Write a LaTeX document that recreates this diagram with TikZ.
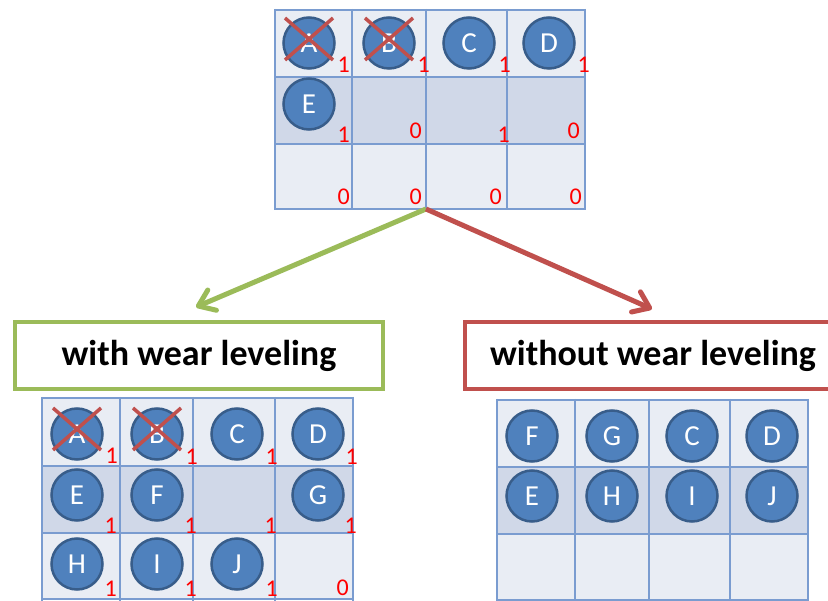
\documentclass[tikz,border=0pt]{standalone}
\usepackage{fontspec}
\setmainfont{Carlito}
\usetikzlibrary{arrows.meta}
\definecolor{gridline}{RGB}{122,156,208}
\definecolor{lightcell}{RGB}{233,237,244}
\definecolor{darkcell}{RGB}{208,216,232}
\definecolor{cfill}{RGB}{79,129,189}
\definecolor{cborder}{RGB}{56,93,138}
\definecolor{xred}{RGB}{192,80,77}
\definecolor{dred}{RGB}{255,0,0}
\definecolor{wgreen}{RGB}{155,187,89}
\definecolor{wred}{RGB}{192,80,77}
\tikzset{
  gridl/.style={draw=gridline, line width=1.3pt},
  blk/.style={circle, fill=cfill, draw=cborder, line width=2.5pt, minimum size=51pt, inner sep=0pt, text=white, font=\fontsize{29}{29}\selectfont},
  xmark/.style={draw=xred, line width=3.5pt},
  dig/.style={anchor=base east, inner sep=0pt, text=dred, font=\fontsize{24}{24}\selectfont},
  titlebox/.style={fill=white, line width=4pt, minimum height=67pt, inner sep=0pt, font=\bfseries\fontsize{36}{36}\selectfont},
  warrow/.style={line width=5pt, -{Straight Barb[length=15pt,width=22pt,line join=round,line cap=round]}}
}
\begin{document}
\begin{tikzpicture}[x=1pt,y=-1pt]
\useasboundingbox (0,0) rectangle (828,601);
\clip (0,0) rectangle (828,601);
\fill[white] (0,0) rectangle (828,601);
% ---------- top grid ----------
\fill[lightcell] (275,10) rectangle (585,77);
\fill[darkcell] (275,77) rectangle (585,144);
\fill[lightcell] (275,144) rectangle (585,209);
\foreach \x in {275,352,426,507,585} \draw[gridl] (\x,9) -- (\x,210);
\foreach \y in {10,77,144,209} \draw[gridl] (274,\y) -- (586,\y);
\node[blk] (tA) at (309,43) {A};
\node[blk] (tB) at (389,43) {B};
\node[blk] (tC) at (469,43) {C};
\node[blk] (tD) at (549,43) {D};
\node[blk] (tE) at (309,104) {E};
\draw[xmark] ([shift={(-24,-25)}]tA.center) -- ([shift={(24,17)}]tA.center);
\draw[xmark] ([shift={(-24,17)}]tA.center) -- ([shift={(24,-25)}]tA.center);
\draw[xmark] ([shift={(-24,-25)}]tB.center) -- ([shift={(24,17)}]tB.center);
\draw[xmark] ([shift={(-24,17)}]tB.center) -- ([shift={(24,-25)}]tB.center);
\node[dig] (t11) at (350,73) {1};
\node[dig] (t12) at (430,73) {1};
\node[dig] (t13) at (511,73) {1};
\node[dig] (t14) at (590,73) {1};
\node[dig] (t21) at (350,143) {1};
\node[dig] (t22) at (422,139) {0};
\node[dig] (t23) at (510,143) {1};
\node[dig] (t24) at (580,139) {0};
\node[dig] (t31) at (350,205) {0};
\node[dig] (t32) at (422,205) {0};
\node[dig] (t33) at (502,205) {0};
\node[dig] (t34) at (582,205) {0};
% ---------- title boxes ----------
\node[titlebox, draw=wgreen, minimum width=368pt] (gbox) at (199,355.5) {with wear leveling};
\node[titlebox, draw=wred, minimum width=376pt] (rbox) at (653,355.5) {without wear leveling};
% ---------- arrows ----------
\coordinate (src) at (426,209);
\coordinate (gtip) at (196,307);
\coordinate (rtip) at (652,309);
\draw[warrow, draw=wgreen] (src) -- (gtip);
\draw[warrow, draw=wred] (src) -- (rtip);
% ---------- bottom-left grid ----------
\fill[lightcell] (42,398) rectangle (353,466);
\fill[darkcell] (42,466) rectangle (353,533);
\fill[lightcell] (42,533) rectangle (353,599);
\foreach \x in {42,120,193,275,353} \draw[gridl] (\x,397) -- (\x,601);
\foreach \y in {398,466,533,599} \draw[gridl] (41,\y) -- (354,\y);
\node[blk] (lA) at (77,434) {A};
\node[blk] (lB) at (157,434) {B};
\node[blk] (lC) at (237,434) {C};
\node[blk] (lD) at (318,434) {D};
\node[blk] (lE) at (77,495) {E};
\node[blk] (lF) at (157,495) {F};
\node[blk] (lG) at (318,495) {G};
\node[blk] (lH) at (77,564) {H};
\node[blk] (lI) at (157,564) {I};
\node[blk] (lJ) at (237,564) {J};
\draw[xmark] ([shift={(-24,-26)}]lA.center) -- ([shift={(24,16)}]lA.center);
\draw[xmark] ([shift={(-24,16)}]lA.center) -- ([shift={(24,-26)}]lA.center);
\draw[xmark] ([shift={(-24,-26)}]lB.center) -- ([shift={(24,16)}]lB.center);
\draw[xmark] ([shift={(-24,16)}]lB.center) -- ([shift={(24,-26)}]lB.center);
\node[dig] (l11) at (118,464) {1};
\node[dig] (l12) at (198,465) {1};
\node[dig] (l13) at (278,465) {1};
\node[dig] (l14) at (358,465) {1};
\node[dig] (l21) at (117,533) {1};
\node[dig] (l22) at (197,533) {1};
\node[dig] (l23) at (277,533) {1};
\node[dig] (l24) at (357,533) {1};
\node[dig] (l31) at (117,596) {1};
\node[dig] (l32) at (197,596) {1};
\node[dig] (l33) at (278,596) {1};
\node[dig] (l34) at (349,595) {0};
% ---------- bottom-right grid ----------
\fill[lightcell] (497,400) rectangle (808,467);
\fill[darkcell] (497,467) rectangle (808,534);
\fill[lightcell] (497,534) rectangle (808,600);
\foreach \x in {497,575,649,730,808} \draw[gridl] (\x,399) -- (\x,601);
\foreach \y in {400,467,534,600} \draw[gridl] (496,\y) -- (809,\y);
\node[blk] (rF) at (532,436) {F};
\node[blk] (rG) at (612,436) {G};
\node[blk] (rC) at (692,436) {C};
\node[blk] (rD) at (772,436) {D};
\node[blk] (rE) at (532,496) {E};
\node[blk] (rH) at (612,496) {H};
\node[blk] (rI) at (692,496) {I};
\node[blk] (rJ) at (772,496) {J};
\end{tikzpicture}
\end{document}
